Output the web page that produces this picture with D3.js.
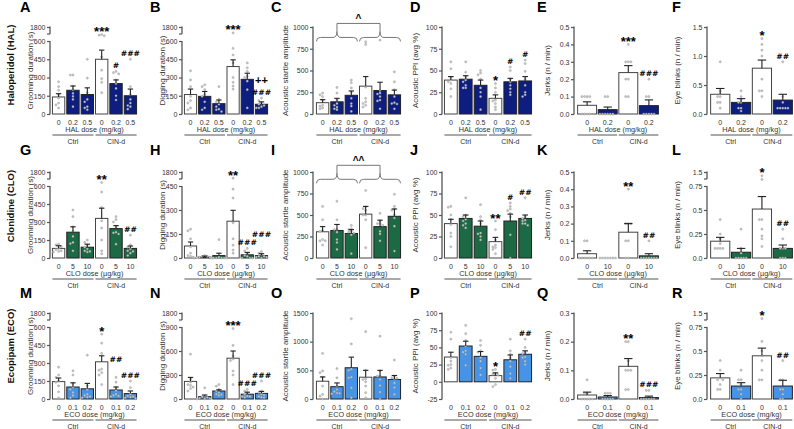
<!DOCTYPE html>
<html><head><meta charset="utf-8">
<script src="https://cdn.jsdelivr.net/npm/d3@7"></script>
<style>body{margin:0;background:#fff}svg{display:block}.sig{font-variant-emoji:text}</style>
</head><body>
<svg id="chart" width="794" height="429"></svg>
<script>
// ---------------- DATA ----------------
const panelIds = ["A","B","C","D","E","F","G","H","I","J","K","L","M","N","O","P","Q","R"];
const drugNames = ["Haloperidol (HAL)","Clonidine (CLO)","Ecopipam (ECO)"];
const doseTitles = ["HAL dose (mg/kg)","CLO dose (µg/kg)","ECO dose (mg/kg)"];
const measureTitles = ["Grooming duration (s)","Digging duration (s)","Acoustic startle amplitude","Acoustic PPI (avg %)","Jerks (n / min)","Eye blinks (n / min)"];
const doses3 = [["0","0.2","0.5"],["0","5","10"],["0","0.1","0.2"]];
const doses2 = [["0","0.2"],["0","10"],["0","0.1"]];
const groupNames = ["Ctrl","CIN-d"];

const yTickValues = [
  [0,150,300,450,600,1800],[0,150,300,450,600,1800],[0,250,500,750,1000],[0,25,50,75,100],[0,0.1,0.2,0.3,0.4,0.5],[0,0.5,1,1.5],
  [0,150,300,450,600,1800],[0,150,300,450,1800],[0,250,500,750,1000],[0,25,50,75,100],[0,0.1,0.2,0.3,0.4,0.5],[0,0.25,0.5,0.75,1.5],
  [0,150,300,450,600,1800],[0,300,600,900,1800],[0,500,1000,1500],[-25,0,25,50,75,100],[0,0.1,0.2,0.3],[0,0.25,0.5,0.75,1.5]
];
const yTickLabels = [
  ["0","150","300","450","600","1800"],["0","150","300","450","600","1800"],["0","250","500","750","1000"],["0","25","50","75","100"],["0.0","0.1","0.2","0.3","0.4","0.5"],["0.0","0.5","1.0","1.5"],
  ["0","150","300","450","600","1800"],["0","150","300","450","1800"],["0","250","500","750","1000"],["0","25","50","75","100"],["0.0","0.1","0.2","0.3","0.4","0.5"],["0.0","0.25","0.5","0.75","1.5"],
  ["0","150","300","450","600","1800"],["0","300","600","900","1800"],["0","500","1000","1500"],["-25","0","25","50","75","100"],["0.0","0.1","0.2","0.3"],["0.0","0.25","0.5","0.75","1.5"]
];
// axis break: highest value of the lower segment (null = no break)
const yBreaks = [600,600,null,null,null,null, 600,450,null,null,null,0.75, 600,900,null,null,null,0.75];

const means = [
  [140,195,160,450,250,150],[160,145,85,390,285,80],[130,140,215,320,270,220],[39,40,33,18,37,38],[0.05,0.025,0.238,0.048],[0.34,0.2,0.79,0.24],
  [80,215,90,330,245,80],[75,6,15,230,20,15],[305,320,285,510,365,485],[40,46,37,19,43,46],[0.025,0,0.15,0.0125],[0.175,0.06,0.51,0.1],
  [145,100,85,310,75,45],[220,30,100,510,60,70],[310,215,545,380,385,340],[36,52,37,9,32,40],[0.014,0.007,0.114,0.005],[0.22,0.135,0.45,0.135]
];
const sems = [
  [27,35,55,75,30,55],[45,40,30,55,50,20],[35,40,50,110,95,55],[4,4,6,4,4,5],[0.02,0.015,0.04,0.033],[0.1,0.065,0.14,0.1],
  [22,45,25,85,25,20],[25,6,15,68,15,12],[60,70,45,90,75,85],[5,4,6,5,8,4],[0.017,0,0.05,0.0125],[0.04,0.04,0.13,0.035],
  [30,35,45,50,25,22],[50,20,15,90,25,25],[75,65,185,120,115,70],[7,7,7,4,7,5],[0.01,0.005,0.027,0.005],[0.045,0.035,0.08,0.06]
];
const points = [
  [[265,225,195,160,130,90,50,75],[320,320,230,200,170,145,120,60],[450,295,175,120,50,35,60,100],[1100,1050,1150,470,290,260,175,360],[350,340,330,280,250,210,150,115],[450,225,160,120,70,40,60,90]],
  [[355,280,225,145,90,50,35,110],[240,225,200,145,50,35,160,100],[225,120,100,60,40,35,80,20],[1300,540,485,420,300,230,205,260],[420,380,350,310,300,200,50,270],[130,110,90,80,60,50,70,50]],
  [[240,220,200,160,100,70,60,90],[305,240,160,120,60,100,80,50],[390,360,300,180,90,30,250,120],[830,800,310,180,140,100,120,80],[850,240,160,60,230,200,150,270],[485,370,280,200,130,60,120,115]],
  [[60,52,42,39,37,29,20,35],[60,48,43,39,37,33,30,30],[50,47,45,40,30,25,20,5],[35,30,25,16,12,8,5,15],[54,50,40,37,33,29,25,22],[62,58,49,40,33,25,22,20]],
  [[0.1,0.1,0.1,0.1,0,0,0,0],[0.1,0.1,0,0,0,0,0,0],[0.4,0.3,0.3,0.3,0.2,0.2,0.1,0.1],[0.2,0.1,0.1,0,0,0,0,0]],
  [[0.9,0.4,0.35,0.3,0.3,0.2,0.1,0.2],[0.4,0.3,0.25,0.2,0.2,0.1,0.1,0.05],[1.3,1.2,1.1,1.0,0.4,0.4,0.3,0.6],[0.9,0.3,0.2,0.1,0.1,0.1,0.1,0.1]],
  [[115,110,95,80,70,60,55,50],[400,345,260,225,180,130,120,60],[150,130,110,90,75,60,50,55],[900,550,420,310,250,150,60,35],[345,320,300,260,215,200,210,115],[190,110,90,75,60,40,55,20]],
  [[180,170,120,70,30,15,5,10],[15,10,5,5,0,0,10,3],[115,5,0,0,0,0,0,0],[1200,430,375,220,120,80,50,30],[60,45,30,15,10,0,0,0],[40,30,20,10,10,5,5,0]],
  [[600,445,320,310,215,200,150,200],[660,445,330,300,215,180,100,330],[380,340,310,300,290,270,330,50],[785,595,575,555,445,120,500,500],[520,400,380,310,280,200,400,430],[740,600,555,465,370,80,500,570]],
  [[60,59,50,45,39,29,25,13],[70,50,48,45,43,40,38,35],[62,48,44,40,29,25,21,28],[43,33,21,13,10,5,15,12],[64,60,57,55,52,48,27,0],[70,48,46,44,43,40,38,40]],
  [[0.1,0.1,0,0,0,0,0,0],[0,0,0,0,0,0,0],[0.4,0.2,0.2,0.2,0.1,0.1,0,0],[0.1,0,0,0,0,0,0,0]],
  [[0.4,0.25,0.2,0.15,0.1,0.1,0.1,0.1],[0.3,0.1,0.05,0,0,0,0,0],[1.3,1.1,0.4,0.4,0.23,0.2,0.12,0.3],[0.3,0.2,0.1,0.1,0.1,0,0,0]],
  [[265,200,180,150,140,110,60,10],[235,200,130,100,80,55,30,10],[365,110,80,40,20,30,10,15],[540,465,380,250,240,220,200,120],[180,140,95,70,40,20,30,25],[150,95,40,25,20,15,10,5]],
  [[560,250,210,180,150,130,170,100],[140,35,30,20,10,5,0,0],[180,160,120,100,80,60,55,45],[880,670,540,500,480,350,300,180],[120,100,80,60,40,30,30,20],[225,100,80,60,50,30,20,15]],
  [[795,490,460,380,225,80,50,0],[530,370,225,165,105,130,100,90],[1400,960,520,370,195,20,380,500],[1175,500,340,225,110,20,350,300],[1095,490,340,235,120,0,400,400],[680,400,370,280,200,80,350,360]],
  [[72,62,35,30,24,18,20,25],[82,70,60,52,43,40,24,45],[60,53,45,43,35,30,20,10],[18,17,12,11,10,5,-4,-7],[62,45,40,35,30,22,12,5],[62,50,43,41,36,35,30,25]],
  [[0.067,0.02,0.02,0,0,0,0,0],[0.02,0.02,0.02,0,0,0,0,0],[0.2,0.2,0.133,0.1,0.1,0.033,0.033,0.1],[0.03,0.03,0,0,0,0,0,0]],
  [[0.4,0.3,0.22,0.2,0.2,0.15,0.1,0.1],[0.3,0.2,0.2,0.15,0.1,0.1,0.05,0],[1.2,0.6,0.5,0.45,0.4,0.3,0.2,0.2],[0.4,0.2,0.2,0.1,0.1,0.05,0,0]]
];
// significance marks: [bar index, text, stacking level]
const sigMarks = [
  [[3,"***",0],[4,"#",0],[5,"###",0]],[[3,"***",0],[5,"###",0],[5,"++",1]],[],[[3,"*",0],[4,"#",0],[5,"#",0]],[[2,"***",0],[3,"###",0]],[[2,"*",0],[3,"##",0]],
  [[3,"**",0],[5,"##",0]],[[3,"**",0],[4,"###",0],[5,"###",1]],[],[[3,"**",0],[4,"#",0],[5,"##",0]],[[2,"**",0],[3,"##",0]],[[2,"*",0],[3,"##",0]],
  [[3,"*",0],[4,"##",1],[5,"###",0]],[[3,"***",0],[4,"###",0],[5,"###",0]],[],[[3,"*",0],[5,"##",0]],[[2,"**",0],[3,"###",0]],[[2,"*",0],[3,"##",0]]
];
// group-comparison brackets: [text, level in data units]
const brackets = [null,null,["^",880],null,null,null, null,null,["^^",915],null,null,null, null,null,null,null,null,null];

// ---------------- LAYOUT / STYLE ----------------
const FONT = "'Liberation Sans', Arial, sans-serif";
const drugFill = ["#0e1e80","#1c6a43","#4794e6"];
const rowTop = [27,172,313], rowBottom = [114,258,399];
const colX = [[52,137],[184,268],[316,401],[444,532],[577,659],[710,793]];
const axisX = [50,182,313,442,574,707];
const letterX = [20,150,271,410,537,672];
const letterY = [12,155,298];
const titleX = [30,162,285,415,547,677];
const rowLabelY = [65,206,346];

const svg = d3.select("#chart").attr("font-family", FONT);

drugNames.forEach((t,r)=>{
  svg.append("text").attr("transform",`translate(10,${rowLabelY[r]}) rotate(-90)`)
    .attr("text-anchor","middle").attr("dominant-baseline","central")
    .attr("font-weight","bold").attr("font-size",9.5).attr("fill","#111").text(t);
});

function swarm(vals, cx, y){
  const placed=[];
  const offs=[0,-2.6,2.6,-5.2,5.2,-7.8,7.8,-10.4,10.4];
  vals.map(v=>({v,py:y(v)})).sort((a,b)=>a.py-b.py).forEach(p=>{
    for(const o of offs){
      const px=cx+o;
      if(placed.every(q=>Math.hypot(q.px-px,q.py-p.py)>=2.5)){p.px=px;break;}
    }
    if(p.px===undefined)p.px=cx;
    placed.push(p);
  });
  return placed;
}

panelIds.forEach((id,i)=>{
  const r=Math.floor(i/6), c=i%6;
  const n=means[i].length, half=n/2;
  const top=rowTop[r], bot=rowBottom[r];
  const tv=yTickValues[i];
  const yMin=tv[0], yMax=tv[tv.length-1];
  const brk=yBreaks[i];
  const y = brk!==null
    ? d3.scaleLinear().domain([yMin,brk,yMax]).range([bot,top+14,top])
    : d3.scaleLinear().domain([yMin,yMax]).range([bot,top]);
  const x=d3.scaleBand().domain(d3.range(n)).range(colX[c]).paddingInner(n===6?0.14:0.08).paddingOuter(0.03);
  const bw=x.bandwidth();
  const g=svg.append("g");

  g.append("text").attr("x",letterX[c]).attr("y",letterY[r]).attr("font-weight","bold")
    .attr("font-size",14.5).attr("fill","#000").text(id);
  g.append("text").attr("transform",`translate(${titleX[c]},${(top+bot)/2}) rotate(-90)`)
    .attr("text-anchor","middle").attr("dominant-baseline","central")
    .attr("font-size",8).attr("fill","#333").text(measureTitles[c]);

  const ax=d3.axisLeft(y).tickValues(tv).tickFormat((d,k)=>yTickLabels[i][k]).tickSize(3).tickPadding(1.5);
  const ag=g.append("g").attr("transform",`translate(${axisX[c]},0)`).call(ax)
    .attr("font-family",FONT).attr("font-size",7);
  ag.select(".domain").remove();
  ag.selectAll(".tick line").attr("stroke","#555").attr("stroke-width",1.2);
  ag.selectAll(".tick text").attr("fill","#333");
  const axLine=(y1,y2)=>g.append("line").attr("x1",axisX[c]).attr("x2",axisX[c]).attr("y1",y1).attr("y2",y2)
    .attr("stroke","#555").attr("stroke-width",1.3);
  if(brk!==null){
    axLine(y(brk),bot+0.5);
    axLine(top-0.5,top+7);
    g.append("line").attr("x1",axisX[c]-3).attr("x2",axisX[c]).attr("y1",top+7).attr("y2",top+7)
      .attr("stroke","#555").attr("stroke-width",1.2);
  } else axLine(top-0.5,bot+0.5);

  means[i].forEach((m,j)=>{
    if(m<=0) return;
    const white = j%half===0;
    g.append("rect").attr("x",x(j)).attr("y",y(m)).attr("width",bw).attr("height",y(0)-y(m))
      .attr("fill",white?"#fff":drugFill[r]).attr("stroke",white?"#444":"#222").attr("stroke-width",1);
  });
  points[i].forEach((vals,j)=>{
    swarm(vals,x(j)+bw/2,y).forEach(p=>{
      g.append("circle").attr("cx",p.px).attr("cy",p.py).attr("r",1.1)
        .attr("fill","#c8c8c8").attr("stroke","#8a8a8a").attr("stroke-width",0.35);
    });
  });
  means[i].forEach((m,j)=>{
    const s=sems[i][j];
    if(s<=0) return;
    const cx=x(j)+bw/2, cw=bw*0.22;
    g.append("line").attr("x1",cx).attr("x2",cx).attr("y1",y(m)).attr("y2",y(m+s)).attr("stroke","#222").attr("stroke-width",1.1);
    g.append("line").attr("x1",cx-cw).attr("x2",cx+cw).attr("y1",y(m+s)).attr("y2",y(m+s)).attr("stroke","#222").attr("stroke-width",1.1);
  });
  sigMarks[i].forEach(([j,txt,lvl])=>{
    const topVal=Math.max(d3.max(points[i][j]), means[i][j]+sems[i][j]);
    const cy=y(topVal)-6-lvl*12;
    const ch=txt[0];
    const fs= ch==="*"?13:(ch==="+"?11:8.5);
    const base= ch==="*"? cy+0.58*fs : cy+0.36*fs;
    const shown = ch==="#" ? txt.split("").join("\uFE0E")+"\uFE0E" : txt;
    g.append("text").attr("class","sig").attr("x",x(j)+bw/2).attr("y",base).attr("text-anchor","middle")
      .attr("font-family", ch==="#" ? "'DejaVu Sans','Liberation Sans'" : "'Liberation Sans'")
      .attr("font-weight","bold").attr("font-size", ch==="#" ? fs-0.8 : fs)
      .attr("fill","#000").text(shown);
  });
  if(brackets[i]){
    const [txt,val]=brackets[i];
    const by=y(val);
    const peaks=[];
    [[x(0),x(half-1)+bw],[x(half),x(n-1)+bw]].forEach(([a,b])=>{
      const m=(a+b)/2;
      g.append("path").attr("d",`M${a},${by+4} Q${a},${by} ${a+4},${by} L${m-4},${by} Q${m},${by} ${m},${by-6} Q${m},${by} ${m+4},${by} L${b-4},${by} Q${b},${by} ${b},${by+4}`)
        .attr("fill","none").attr("stroke","#777").attr("stroke-width",1);
      peaks.push(m);
    });
    g.append("path").attr("d",`M${peaks[0]},${by-6} L${peaks[0]},${by-14} L${peaks[1]},${by-14} L${peaks[1]},${by-6}`)
      .attr("fill","none").attr("stroke","#777").attr("stroke-width",1);
    g.append("text").attr("x",(peaks[0]+peaks[1])/2).attr("y",by-21+5.2).attr("text-anchor","middle")
      .attr("font-weight","bold").attr("font-size",10).attr("fill","#000").text(txt);
  }
  const doses = n===6?doses3[r]:doses2[r];
  d3.range(n).forEach(j=>{
    g.append("text").attr("x",x(j)+bw/2).attr("y",bot+10.5).attr("text-anchor","middle")
      .attr("font-size",7).attr("fill","#333").text(doses[j%half]);
  });
  g.append("text").attr("x",(colX[c][0]+colX[c][1])/2).attr("y",bot+17.5).attr("text-anchor","middle")
    .attr("font-size",7.3).attr("fill","#333").text(doseTitles[r]);
  groupNames.forEach((gn,k)=>{
    const a=x(k*half), b=x(k*half+half-1)+bw;
    g.append("line").attr("x1",a).attr("x2",b).attr("y1",bot+21).attr("y2",bot+21).attr("stroke","#555").attr("stroke-width",1);
    g.append("text").attr("x",(a+b)/2).attr("y",bot+29.5).attr("text-anchor","middle")
      .attr("font-size",7).attr("fill","#333").text(gn);
  });
});
</script>
</body></html>
